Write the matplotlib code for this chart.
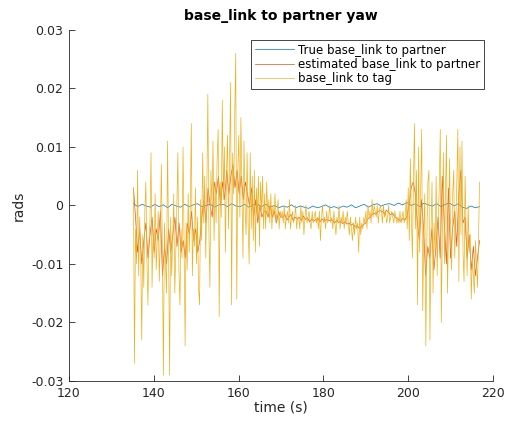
import numpy as np
import matplotlib.pyplot as plt

plt.rcParams["font.family"] = "DejaVu Sans"
plt.rcParams["axes.unicode_minus"] = False

# yaw samples, in milliradians, evenly spaced between T_START and T_END
T_START = 135.2
T_END = 216.8

true_yaw_mrad = [
    0.3, -0.2, 0.2, -0.1, -0.3, 0.2, -0.2, 0.1, -0.4, 0.2,
    -0.1, -0.3, 0.2, -0.2, 0.1, 0.3, -0.2, 0.0, 0.2, -0.3,
    0.1, 0.2, -0.2, 0.3, -0.1, -0.2, 0.2, -0.3, 0.1, 0.2,
    -0.2, 0.2, -0.3, 0.0, -0.4, -0.1, -0.3, 0.1, -0.4, -0.1,
    -0.3, -0.5, -0.1, -0.4, -0.2, 0.1, -0.4, -0.2, -0.5, -0.1,
    -0.3, 0.1, -0.4, -0.1, 0.2, -0.3, 0.1, 0.3, -0.1, 0.2,
    0.3, 0.0, 0.4, 0.1, 0.5, 0.0, 0.3, -0.2, 0.4, 0.1,
    -0.1, 0.3, -0.2, 0.2, 0.4, -0.1, 0.3, -0.3, -0.5, -0.1,
    -0.4, -0.2,
]

estimated_yaw_mrad = [
    3, -2, -8, -4, -10, -6, -3, -9,
    -5, -2, -8, -4, -6, -1, -12, -7,
    -10, -4, -8, -5, -2, -7, -3, -8,
    -6, -9, -3, -5, -1, -6, -4, -8,
    -6, -2, 1, -3, 3, 0, -2, 4,
    2, 5, 0, 4, 1, 6, 2, 5,
    7, 3, 6, 2, 5, 1, 4, 2,
    0, 3, -2, 1, -3, 0, -2, -1,
    -1, -2, 0, -2, -1, -3, -1, -2,
    -2, -1.5, -2.5, -2, -1.5, -2.5, -2, -2.3,
    -2, -2.6, -1.8, -2.4, -2.1, -2.8, -2.3, -2.7,
    -2.4, -2.2, -2.8, -2.3, -2.7, -2.4, -2.6, -2.5,
    -2.5, -3, -2.6, -2.9, -2.7, -3.1, -2.8, -3.2,
    -3, -3.4, -3.1, -3.7, -3.5, -3.9, -3.6, -3.3,
    -3, -2.4, -2, -1.6, -1.3, -1.5, -1, -0.9,
    -1, -1.4, -0.8, -1.2, -1.6, -1.3, -1.9, -2.2,
    -2.4, -2.7, -2.2, -2.5, -1.8, 0, 3, 4,
    2, -3, -6, 1, -4, -12, -7, -9,
    -4, -11, -7, -2, -9, 5, -3, -10,
    3, -9, -4, -1, -7, 2, 6, -3,
    -2, -9, -5, -11, -7, -12, -9, -6,
]

tag_yaw_mrad = [
    3, -27, -4, -10, 6, -12, -2, -8, -23, -5, -14, -1, 4, -9, -17, -6,
    -3, 9, -14, -4, -9, 2, -11, -6, -1, -13, -5, 7, -8, -29, -3, -10,
    -15, 11, -7, -29, -2, -12, -6, 2, -15, -8, 0, 9, -11, -17, -4, -9,
    10, -6, -24, -3, -11, 2, -8, -1, 14, -12, -4, -7, 3, -10, -2, -14,
    -17, 1, -6, 9, -3, 5, -9, 2, 19, -4, -14, 6, 0, 11, -6, 4,
    -3, 8, 13, -19, 4, -2, 18, 1, 10, -8, 5, 12, -4, 7, 21, -17,
    9, 2, 15, 26, -16, 6, 12, -2, 15, 3, -9, 11, 0, -5, 9, -3,
    -10, 9, -4, 5, -6, 6, -8, 3, -2, 5, -7, 4, -1, 5, -4, 2,
    -4, 4, -2, 1, -3, 2, -4, 0, -2, 2, -3, -1, 1, -4, -1, -2,
    -1, -3, 0, -4, -2, -1, -3, 1, -4, -2, -1, -3, -2, 0, -4, -2,
    -2, -4, 0, -3, -1, -5, -2, 0, -3, -2, -1, -3, -4, -1, -3, -2,
    -1, -3, -2, -4, -1, -6, -2, 0, -3, -2, -4, -1, -3, -2, 0, -3,
    -2, -4, -1, -3, -5, -2, -3, 0, -4, -2, -3, -1, -4, -2, -3, -1,
    -3, -5, -2, -4, -6, -3, -5, -2, -4, -3, -8, -2, -5, -3, -4, -2,
    -3, -1, -4, 0, -2, -1, -3, 1, -2, 0, -1, -2, 0, -3, -1, 0,
    -1, -3, 0, -2, -1, -3, -2, 0, -3, -2, -1, -2, -3, -1, -2, -3,
    -2, -3, -1, -3, -2, -1, -3, -2, 1, -4, 3, -6, 8, -2, -9, 4,
    14, -4, 6, -17, 10, -8, 2, 13, -18, -5, 2, -24, -6, 4, 6, -23,
    -5, 4, -15, -3, -8, 5, -12, -2, 3, 13, -20, -4, 9, -10, 2, 12,
    -15, -3, 8, -6, -11, 2, 6, -9, -3, 4, 13, -13, 10, -5, 11, -8,
    -13, 5, -4, -12, 0, -8, -5, -16, -9, -12, -15, -6, -10, -14, -6, 4,
]

x_ticks = [120, 140, 160, 180, 200, 220]
y_ticks = [-0.03, -0.02, -0.01, 0, 0.01, 0.02, 0.03]
y_tick_labels = ["-0.03", "-0.02", "-0.01", "0", "0.01", "0.02", "0.03"]


def to_series(values_mrad):
    t = np.linspace(T_START, T_END, len(values_mrad))
    return t, np.array(values_mrad) / 1000.0


fig = plt.figure(figsize=(5.11, 4.21), dpi=100)
ax = fig.add_axes([0.135, 0.095, 0.83, 0.834])

t, y = to_series(true_yaw_mrad)
ax.plot(t, y, color="#0072BD", linewidth=0.5, label="True base_link to partner")
t, y = to_series(estimated_yaw_mrad)
ax.plot(t, y, color="#D95319", linewidth=0.5, label="estimated base_link to partner")
t, y = to_series(tag_yaw_mrad)
ax.plot(t, y, color="#EDB120", linewidth=0.5, label="base_link to tag")

ax.set_xlim(120, 220)
ax.set_ylim(-0.03, 0.03)
ax.set_xticks(x_ticks)
ax.set_yticks(y_ticks)
ax.set_yticklabels(y_tick_labels)

for side in ["top", "right"]:
    ax.spines[side].set_visible(False)
for side in ["left", "bottom"]:
    ax.spines[side].set_linewidth(0.6)
    ax.spines[side].set_color("#262626")
ax.tick_params(direction="in", length=4, width=0.6, color="#262626",
               labelcolor="#262626", labelsize=9, pad=4)

ax.set_title("base_link to partner yaw", fontsize=10, fontweight="bold", pad=7)
ax.set_xlabel("time (s)", fontsize=10, color="#262626", labelpad=1)
ax.set_ylabel("rads", fontsize=10, color="#262626", labelpad=4)

leg = ax.legend(loc="upper right", bbox_to_anchor=(0.979, 0.971), borderaxespad=0,
                fontsize=8.5, handlelength=3.3, handletextpad=0.4,
                borderpad=0.3, labelspacing=0.1, fancybox=False, framealpha=1)
leg.get_frame().set_edgecolor("#262626")
leg.get_frame().set_linewidth(0.6)

fig.savefig("out.png", dpi=100)
